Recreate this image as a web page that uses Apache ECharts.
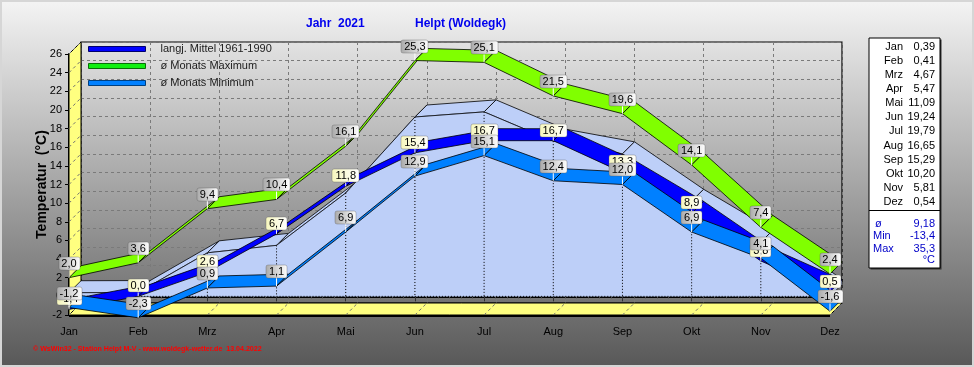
<!DOCTYPE html>
<html><head><meta charset="utf-8">
<script src="https://cdn.jsdelivr.net/npm/echarts@6/dist/echarts.min.js"></script>
<style>html,body{margin:0;padding:0;background:#fff}#c{width:974px;height:367px}</style>
</head><body><div id="c"></div>
<script>
// ---------- data ----------
const months = ['Jan','Feb','Mrz','Apr','Mai','Jun','Jul','Aug','Sep','Okt','Nov','Dez'];
const meanLongTerm = [-1.4, 0.0, 2.6, 6.7, 11.8, 15.4, 16.7, 16.7, 13.3, 8.9, 3.8, 0.5];
const maxMonthly   = [2.0, 3.6, 9.4, 10.4, 16.1, 25.3, 25.1, 21.5, 19.6, 14.1, 7.4, 2.4];
const minMonthly   = [-1.2, -2.3, 0.9, 1.1, 6.9, 12.9, 15.1, 12.4, 12.0, 6.9, 4.1, -1.6];
const mean2021     = [0.39, 0.41, 4.67, 5.47, 11.09, 19.24, 19.79, 16.65, 15.29, 10.20, 5.81, 0.54];
const yearStatNames  = ['ø', 'Min', 'Max'];
const yearStatValues = [9.18, -13.4, 35.3];
const yMin = -2, yMax = 26, yStep = 2;
const seriesNames = ['langj. Mittel 1961-1990', 'ø Monats Maximum', 'ø Monats Minimum'];

// ---------- style ----------
const FONT = '"Liberation Sans", Arial, sans-serif';
const D = [12, -12]; // 3D depth offset in px
const add = p => [p[0] + D[0], p[1] + D[1]];
const fmt = (v, d) => v.toFixed(d).replace('.', ',');
const mctx = document.createElement('canvas').getContext('2d');
function textW(t, font) { mctx.font = font; return mctx.measureText(t).width; }

const C_DARK = '#0000ff', C_GREEN = '#80ff00', C_LIGHT = '#0080ff', C_PALE = '#bdcff8', C_WALL = '#ffff80';

const chart = echarts.init(document.getElementById('c'), null, {renderer: 'canvas'});

function ribbon(name, values, color, z) {
  return {
    type: 'custom', name, z, clip: false, silent: true,
    xAxisIndex: 0, yAxisIndex: 0,
    itemStyle: {color},
    data: values.slice(0, -1).map((v, i) => [i, v, values[i + 1]]),
    renderItem(params, api) {
      const i = api.value(0);
      const a = api.coord([i, api.value(1)]);
      const b = api.coord([i + 1, api.value(2)]);
      return {type: 'polygon', shape: {points: [a, b, add(b), add(a)]},
        style: {fill: color, stroke: '#000', lineWidth: 0.8}};
    }
  };
}

function labels(values, cream, z) {
  const font = '11px ' + FONT;
  return {
    type: 'custom', z, clip: false, silent: true,
    xAxisIndex: 0, yAxisIndex: 0,
    data: values.map((v, i) => [i, v]),
    renderItem(params, api) {
      const v = api.value(1);
      const p = api.coord([api.value(0), v]);
      const txt = fmt(v, 1);
      const w = Math.round(textW(txt, font)) + 6, h = 13;
      const bottom = p[1] - (cream ? 4 : 8);
      const grad = cream
        ? new echarts.graphic.LinearGradient(0, 0, 1, 0, [{offset: 0, color: '#f6f6bc'}, {offset: 1, color: '#ffffff'}])
        : new echarts.graphic.LinearGradient(0, 0, 1, 0, [{offset: 0, color: '#a9a9a9'}, {offset: 1, color: '#ffffff'}]);
      return {type: 'group', children: [
        {type: 'line', shape: {x1: p[0], y1: p[1], x2: p[0], y2: bottom}, style: {stroke: '#fff', lineWidth: 1}},
        {type: 'rect', shape: {x: Math.round(p[0] - w / 2), y: Math.round(bottom - h), width: w, height: h, r: 2},
          style: {fill: grad, stroke: 'rgba(90,90,90,0.35)', lineWidth: 1}},
        {type: 'text', style: {text: txt, x: p[0], y: Math.round(bottom - h) + h / 2 + 0.5, align: 'center', verticalAlign: 'middle', font, fill: '#000'}}
      ]};
    }
  };
}

// walls and floor
const wallSeries = {
  type: 'custom', z: 1, clip: false, silent: true, xAxisIndex: 0, yAxisIndex: 0,
  data: [[0, yMin]],
  renderItem(params, api) {
    const bl = api.coord([0, yMin]), tl = api.coord([0, yMax]), br = api.coord([months.length - 1, yMin]);
    const ch = [
      {type: 'polygon', shape: {points: [bl, tl, add(tl), add(bl)]}, style: {fill: C_WALL, stroke: '#000', lineWidth: 1}},
      {type: 'polygon', shape: {points: [bl, br, add(br), add(bl)]}, style: {fill: C_WALL, stroke: '#000', lineWidth: 1}},
      {type: 'rect', shape: {x: bl[0], y: bl[1], width: br[0] - bl[0], height: 2}, style: {fill: '#000'}}
    ];
    for (let v = yMin; v <= yMax; v += yStep) {
      const a = api.coord([0, v]);
      ch.push({type: 'line', shape: {x1: a[0], y1: a[1], x2: a[0] + D[0], y2: a[1] + D[1]},
        style: {stroke: '#707070', lineWidth: 1, lineDash: [3, 3]}});
    }
    for (let i = 1; i < months.length; i++) {
      const a = api.coord([i, yMin]);
      ch.push({type: 'line', shape: {x1: a[0], y1: a[1], x2: a[0] + D[0], y2: a[1] + D[1]},
        style: {stroke: '#707070', lineWidth: 1, lineDash: [3, 3]}});
    }
    return {type: 'group', children: ch};
  }
};

// area (monthly means 2021): top surface
const areaTop = {
  type: 'custom', z: 2, clip: false, silent: true, xAxisIndex: 0, yAxisIndex: 0,
  data: mean2021.map((v, i) => [i, v, i < mean2021.length - 1 ? mean2021[i + 1] : v]),
  renderItem(params, api) {
    const i = api.value(0), n = mean2021.length;
    const a = api.coord([i, api.value(1)]);
    if (i < n - 1) {
      const b = api.coord([i + 1, api.value(2)]);
      return {type: 'polygon', shape: {points: [a, b, add(b), add(a)]}, style: {fill: C_PALE, stroke: '#000', lineWidth: 0.8}};
    }
    const z0 = api.coord([i, 0]);
    return {type: 'polygon', shape: {points: [a, add(a), add(z0), z0]}, style: {fill: C_PALE, stroke: '#000', lineWidth: 0.8}};
  }
};
const areaFront = {
  type: 'custom', z: 3, clip: false, silent: true, xAxisIndex: 0, yAxisIndex: 0,
  data: mean2021.slice(0, -1).map((v, i) => [i, v, mean2021[i + 1]]),
  renderItem(params, api) {
    const i = api.value(0);
    const a = api.coord([i, api.value(1)]), b = api.coord([i + 1, api.value(2)]);
    const a0 = api.coord([i, 0]), b0 = api.coord([i + 1, 0]);
    return {type: 'polygon', shape: {points: [a, b, b0, a0]}, style: {fill: C_PALE, stroke: C_PALE, lineWidth: 0.6}};
  }
};
const areaLines = {
  type: 'custom', z: 4, clip: false, silent: true, xAxisIndex: 0, yAxisIndex: 0,
  data: mean2021.map((v, i) => [i, v, i < mean2021.length - 1 ? mean2021[i + 1] : v]),
  renderItem(params, api) {
    const i = api.value(0), n = mean2021.length;
    const a = api.coord([i, api.value(1)]), a0 = api.coord([i, 0]);
    const ch = [{type: 'line', shape: {x1: a[0], y1: a[1], x2: a0[0], y2: a0[1]}, style: {stroke: '#000', lineWidth: 1, lineDash: [1, 2]}}];
    if (i < n - 1) {
      const b = api.coord([i + 1, api.value(2)]), b0 = api.coord([i + 1, 0]);
      ch.push({type: 'line', shape: {x1: a[0], y1: a[1], x2: b[0], y2: b[1]}, style: {stroke: '#000', lineWidth: 0.8}});
      ch.push({type: 'line', shape: {x1: a0[0], y1: a0[1], x2: b0[0], y2: b0[1]}, style: {stroke: '#000', lineWidth: 1, lineDash: [1, 2]}});
    }
    return {type: 'group', children: ch};
  }
};

// right-hand table
const tbl = [];
const TX = 869, TY = 38, TW = 71, TH = 230;
tbl.push({type: 'rect', shape: {x: TX + 1.5, y: TY + 1.5, width: TW, height: TH}, style: {fill: '#303030'}});
tbl.push({type: 'rect', shape: {x: TX, y: TY, width: TW, height: TH}, style: {fill: '#fff', stroke: '#000', lineWidth: 1}});
tbl.push({type: 'line', shape: {x1: TX, y1: 210.5, x2: TX + TW, y2: 210.5}, style: {stroke: '#000', lineWidth: 1}});
months.forEach((m, i) => {
  const y = 46.5 + i * 14.15;
  tbl.push({type: 'text', style: {text: m, x: 903, y, align: 'right', verticalAlign: 'middle', font: '11px ' + FONT, fill: '#000'}});
  tbl.push({type: 'text', style: {text: fmt(mean2021[i], 2), x: 935, y, align: 'right', verticalAlign: 'middle', font: '11px ' + FONT, fill: '#000'}});
});
yearStatNames.forEach((nm, i) => {
  const y = 223.5 + i * 12.6;
  tbl.push({type: 'text', style: {text: nm, x: i === 0 ? 875 : 873, y, align: 'left', verticalAlign: 'middle', font: '11px ' + FONT, fill: '#0000c8'}});
  tbl.push({type: 'text', style: {text: fmt(yearStatValues[i], i === 0 ? 2 : 1), x: 935, y, align: 'right', verticalAlign: 'middle', font: '11px ' + FONT, fill: '#0000c8'}});
});
tbl.push({type: 'text', style: {text: '°C', x: 935, y: 259.5, align: 'right', verticalAlign: 'middle', font: '11px ' + FONT, fill: '#0000c8'}});

const footer = '© WsWin32 - Station Helpt M-V - www.woldegk-wetter.de  13.04.2022';
const fw = textW(footer, 'bold 7px ' + FONT);
const fsize = Math.min(7.5, 7 * 229 / fw);

const option = {
  animation: false,
  backgroundColor: new echarts.graphic.LinearGradient(0, 0, 0, 1, [{offset: 0, color: '#f4f4f4'}, {offset: 1, color: '#585858'}]),
  textStyle: {fontFamily: FONT},
  title: [
    {text: 'Jahr  2021', left: 306, top: 18, padding: 0, textStyle: {fontSize: 12, fontWeight: 'bold', color: '#0000ee', fontFamily: FONT}},
    {text: 'Helpt (Woldegk)', left: 415, top: 18, padding: 0, textStyle: {fontSize: 12, fontWeight: 'bold', color: '#0000ee', fontFamily: FONT}}
  ],
  legend: {
    orient: 'vertical', left: 88, top: 42, itemWidth: 57, itemHeight: 5, itemGap: 3, padding: 0,
    selectedMode: false,
    textStyle: {fontSize: 11, color: '#202020', fontFamily: FONT, lineHeight: 14, padding: [0, 0, 0, 10]},
    data: [
      {name: seriesNames[0], icon: 'rect', itemStyle: {color: C_DARK, borderColor: '#00006a', borderWidth: 1}},
      {name: seriesNames[1], icon: 'rect', itemStyle: {color: '#10f010', borderColor: '#087008', borderWidth: 1}},
      {name: seriesNames[2], icon: 'rect', itemStyle: {color: C_LIGHT, borderColor: '#004080', borderWidth: 1}}
    ]
  },
  grid: [
    {left: 69, right: 144, top: 54, bottom: 52},
    {left: 81, right: 132, top: 42, bottom: 64, show: true, borderColor: '#000', borderWidth: 1.2, backgroundColor: 'transparent'}
  ],
  xAxis: [
    {type: 'value', gridIndex: 0, min: 0, max: months.length - 1, interval: 1,
      axisLine: {show: true, lineStyle: {color: '#000', width: 2}},
      axisTick: {show: true, length: 5, lineStyle: {color: '#333'}},
      minorTick: {show: true, splitNumber: 6, length: 2, lineStyle: {color: '#444'}},
      axisLabel: {formatter: v => months[v] || '', margin: 11, fontSize: 11, color: '#000', fontFamily: FONT},
      splitLine: {show: false}},
    {type: 'value', gridIndex: 1, min: 0, max: months.length - 1, interval: 1,
      axisLine: {show: false}, axisTick: {show: false}, axisLabel: {show: false},
      splitLine: {show: true, lineStyle: {color: '#7a7a7a', type: [3, 3], width: 1}}}
  ],
  yAxis: [
    {type: 'value', gridIndex: 0, min: yMin, max: yMax, interval: yStep,
      name: 'Temperatur  (°C)', nameLocation: 'middle', nameGap: 20, nameRotate: 90, nameMoveOverlap: false,
      nameTextStyle: {fontSize: 14, fontWeight: 'bold', color: '#000', fontFamily: FONT},
      axisLine: {show: true, lineStyle: {color: '#000', width: 2}},
      axisTick: {show: true, length: 4, lineStyle: {color: '#000'}},
      axisLabel: {margin: 7, fontSize: 11, color: '#000', fontFamily: FONT},
      splitLine: {show: false}},
    {type: 'value', gridIndex: 1, min: yMin, max: yMax, interval: yStep,
      axisLine: {show: false}, axisTick: {show: false}, axisLabel: {show: false},
      splitLine: {show: true, lineStyle: {color: '#7a7a7a', type: [3, 3], width: 1}}}
  ],
  graphic: [
    {type: 'group', children: tbl, z: 50},
    {type: 'text', z: 50, style: {text: footer, x: 33, y: 349, verticalAlign: 'middle', font: 'bold ' + fsize.toFixed(2) + 'px ' + FONT, fill: '#ff0000'}},
    {type: 'rect', z: 60, shape: {x: 1, y: 1, width: 972, height: 365}, style: {fill: 'none', stroke: '#d6d6d6', lineWidth: 2}}
  ],
  series: [
    wallSeries, areaTop, areaFront, areaLines,
    ribbon(seriesNames[0], meanLongTerm, C_DARK, 5),
    ribbon(seriesNames[1], maxMonthly, C_GREEN, 6),
    ribbon(seriesNames[2], minMonthly, C_LIGHT, 7),
    labels(meanLongTerm, true, 8),
    labels(maxMonthly, false, 9),
    labels(minMonthly, false, 10)
  ]
};
chart.setOption(option);
</script></body></html>
